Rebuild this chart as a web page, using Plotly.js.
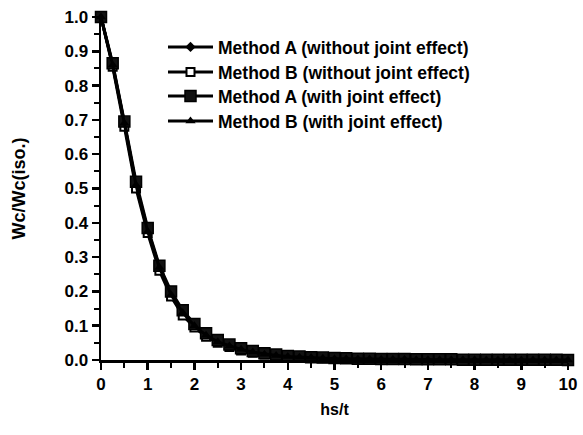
<!DOCTYPE html>
<html><head><meta charset="utf-8">
<script src="https://cdn.plot.ly/plotly-3.0.1.min.js"></script>
<style>html,body{margin:0;padding:0;background:#fff}#chart{width:583px;height:435px}</style>
</head><body><div id="chart"></div>
<script>
const hsT = [0,0.25,0.5,0.75,1,1.25,1.5,1.75,2,2.25,2.5,2.75,3,3.25,3.5,3.75,4,4.25,4.5,4.75,5,5.25,5.5,5.75,6,6.25,6.5,6.75,7,7.25,7.5,7.75,8,8.25,8.5,8.75,9,9.25,9.5,9.75,10];
const methodA_noJoint = [1.0,0.86,0.69,0.51,0.38,0.27,0.195,0.14,0.10,0.075,0.055,0.043,0.032,0.024,0.018,0.014,0.011,0.009,0.007,0.006,0.005,0.004,0.004,0.003,0.003,0.002,0.002,0.002,0.002,0.001,0.001,0.001,0.001,0.001,0.001,0.001,0.001,0.0,0.0,0.0,0.0];
const methodB_noJoint = [1.0,0.855,0.68,0.50,0.37,0.26,0.185,0.13,0.095,0.068,0.050,0.038,0.028,0.021,0.016,0.012,0.009,0.007,0.006,0.005,0.004,0.003,0.003,0.002,0.002,0.002,0.001,0.001,0.001,0.001,0.001,0.001,0.0,0.0,0.0,0.0,0.0,0.0,0.0,0.0,0.0];
const methodA_joint = [1.0,0.865,0.695,0.52,0.385,0.275,0.20,0.145,0.105,0.078,0.058,0.045,0.034,0.026,0.020,0.016,0.012,0.010,0.008,0.007,0.006,0.005,0.004,0.004,0.003,0.003,0.003,0.002,0.002,0.002,0.002,0.001,0.001,0.001,0.001,0.001,0.001,0.001,0.001,0.001,0.0];
const methodB_joint = [1.0,0.86,0.69,0.51,0.375,0.27,0.19,0.138,0.10,0.072,0.053,0.041,0.031,0.023,0.017,0.013,0.010,0.008,0.007,0.005,0.004,0.004,0.003,0.003,0.002,0.002,0.002,0.001,0.001,0.001,0.001,0.001,0.001,0.0,0.0,0.0,0.0,0.0,0.0,0.0,0.0];
const seriesNames = ["Method A (without joint effect)","Method B (without joint effect)","Method A (with joint effect)","Method B (with joint effect)"];
const xTicks = [0,1,2,3,4,5,6,7,8,9,10];
const yTicks = [0,0.1,0.2,0.3,0.4,0.5,0.6,0.7,0.8,0.9,1.0];

const FAM = '"Liberation Sans", Arial, sans-serif';
const base = {x: hsT, type:'scatter', mode:'lines+markers', cliponaxis:false, line:{color:'#000', width:3}};
const traces = [
  Object.assign({}, base, {y: methodA_noJoint, name: seriesNames[0], legend:'legend', marker:{symbol:'diamond', size:8, color:'#000'}}),
  Object.assign({}, base, {y: methodB_noJoint, name: seriesNames[1], legend:'legend2', marker:{symbol:'square', size:8, color:'#fff', line:{color:'#000', width:2}}}),
  Object.assign({}, base, {y: methodA_joint, name: seriesNames[2], legend:'legend3', marker:{symbol:'square', size:11, color:'#111', line:{color:'#000', width:1.5}}}),
  Object.assign({}, base, {y: methodB_joint, name: seriesNames[3], legend:'legend4', marker:{symbol:'triangle-up', size:9, color:'#000'}})
];
const legFont = {family:FAM, size:17.5, color:'#000', weight:'bold'};
function leg(yc){ return {x:(163-101)/467, y:(360-yc)/343, xanchor:'left', yanchor:'middle', bgcolor:'rgba(0,0,0,0)', itemwidth:45, font:legFont}; }
const layout = {
  width:583, height:435,
  margin:{l:101, r:15, t:17, b:75},
  paper_bgcolor:'#fff', plot_bgcolor:'#fff',
  font:{family:FAM, size:14, color:'#000', weight:'bold'},
  showlegend:true,
  legend: leg(47), legend2: leg(72), legend3: leg(96), legend4: leg(121),
  xaxis:{range:[0,10], tickvals:xTicks, ticktext:xTicks.map(String), showgrid:false, zeroline:false,
         showline:true, linecolor:'#000', linewidth:2.5, ticks:'outside', ticklen:7, tickwidth:2.5, tickcolor:'#000',
         minor:{dtick:0.5, tick0:0, ticks:'outside', ticklen:5, tickwidth:2, tickcolor:'#000'},
         tickfont:{family:FAM, size:17, weight:'bold'},
         title:{text:'hs/t', standoff:11, font:{family:FAM, size:16, weight:'bold'}}},
  yaxis:{range:[0,1.0], tickvals:yTicks, tickformat:'.1f', showgrid:false, zeroline:false,
         showline:true, linecolor:'#000', linewidth:2.5, ticks:'outside', ticklen:7, tickwidth:2.5, tickcolor:'#000',
         minor:{dtick:0.05, tick0:0, ticks:'outside', ticklen:5, tickwidth:2, tickcolor:'#000'},
         tickfont:{family:FAM, size:17, weight:'bold'},
         title:{text:'Wc/Wc(iso.)', standoff:34, font:{family:FAM, size:18, weight:'bold'}}}
};
Plotly.newPlot('chart', traces, layout, {displayModeBar:false, staticPlot:true});
</script></body></html>
